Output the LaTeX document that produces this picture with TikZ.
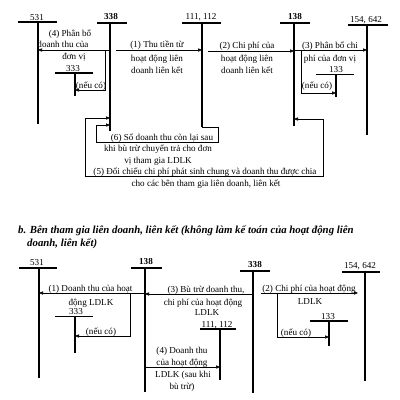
\documentclass[tikz,border=0pt]{standalone}
\usepackage{fontspec}
\setmainfont{Liberation Serif}
\usetikzlibrary{arrows.meta}
\begin{document}
\begin{tikzpicture}[x=1pt,y=-1pt,
  acc/.style={line width=1.2pt},
  accb/.style={line width=1.9pt},
  arr/.style={line width=0.6pt,-{Triangle[length=4pt,width=3.2pt]}},
  darr/.style={line width=0.6pt,{Triangle[length=4pt,width=3.2pt]}-{Triangle[length=4pt,width=3.2pt]}},
  tx/.style={font=\fontsize{9.1}{10}\selectfont, inner sep=0pt, anchor=base},
  txb/.style={tx, font=\fontsize{9.1}{10}\selectfont\bfseries},
  head/.style={inner sep=0pt, anchor=base west, font=\fontsize{10.8}{12}\selectfont\bfseries\itshape},
]
\useasboundingbox (0,0) rectangle (400,400);

% ---------- top section: accounts ----------
\node[tx] (t531) at (37,20) {531};
\draw[acc] (18,22) -- (57,22);
\draw[acc] (38,22) coordinate (u531) -- (38,124);

\node[txb] (t338) at (111,19.5) {338};
\draw[accb] (97,23) -- (127,23);
\draw[accb] (110,23) coordinate (u338) -- (110,131);

\node[tx] (t111) at (201,19.5) {111, 112};
\draw[acc] (182,23) -- (221,23);
\draw[acc] (202,23) coordinate (u111) -- (202,127) coordinate (d111);

\node[txb] (t138) at (295,19.5) {138};
\draw[accb] (280,23) -- (310,23);
\draw[accb] (294,23) coordinate (u138) -- (294,126);

\node[tx] (t154) at (366,22.5) {154, 642};
\draw[acc] (348,25) -- (388,25);
\draw[acc] (367,25) coordinate (u154) -- (367,135);

\node[tx] (t333) at (73,71) {333};
\draw[acc] (55,73) -- (93,73);
\draw[acc] (75,73) coordinate (u333) -- (75,96);

\node[tx] (t133) at (336,72) {133};
\draw[acc] (316,74.5) -- (354,74.5);
\draw[acc] (336,74.5) coordinate (u133) -- (336,97);

% ---------- top section: connectors ----------
\draw[arr] (u338 |- 0,50) -- (u531 |- 0,50);
\draw[arr] (105,50) -- (105,90) -- (u333 |- 0,90);
\draw[arr] (116,50) -- (u111 |- 0,50);
\draw[arr] (208,51) -- (u138 |- 0,51);
\draw[arr] (u138 |- 0,50) -- (u154 |- 0,50);
\draw[arr] (301,50) -- (301,93) -- (u133 |- 0,93);
\draw[arr] (d111) -- (218,127) -- (218,142) -- (96,142) -- (96,125) -- (u338 |- 0,125);
\draw[darr] (u338 |- 0,118) -- (85,118) -- (85,176) -- (323,176) -- (323,119) -- (u138 |- 0,119);

% ---------- top section: texts ----------
\node[tx] (a4a) at (70,36) {(4) Phân bổ};
\node[tx] (a4b) at (63,47) {doanh thu của};
\node[tx] (a4c) at (74,59) {đơn vị};
\node[tx] (n1) at (91,88) {(nếu có)};

\node[tx] (a1a) at (157,47) {(1) Thu tiền từ};
\node[tx] (a1b) at (157,61) {hoạt động liên};
\node[tx] (a1c) at (157,73) {doanh liên kết};

\node[tx] (a2a) at (247,48) {(2) Chi phí của};
\node[tx] (a2b) at (247,61) {hoạt động liên};
\node[tx] (a2c) at (247,73) {doanh liên kết};

\node[tx] (a3a) at (330,48) {(3) Phân bổ chi};
\node[tx] (a3b) at (330,61) {phí của đơn vị};
\node[tx] (n2) at (317,88) {(nếu có)};

\node[tx] (a6a) at (162,140) {(6) Số doanh thu còn lại sau};
\node[tx] (a6b) at (158,151) {khi bù trừ chuyển trả cho đơn};
\node[tx] (a6c) at (158,163) {vị tham gia LDLK};
\node[tx] (a5a) at (205,174) {(5) Đối chiếu chi phí phát sinh chung và doanh thu được chia};
\node[tx] (a5b) at (206,186) {cho các bên tham gia liên doanh, liên kết};

% ---------- heading b ----------
\node[head] (hb1) at (18,233) {b. Bên tham gia liên doanh, liên kết (không làm kế toán của hoạt động liên};
\node[head] (hb2) at (27,246) {doanh, liên kết)};

% ---------- bottom section: accounts ----------
\node[tx] (b531) at (37,265) {531};
\draw[acc] (19,268) -- (57,268);
\draw[acc] (39,268) coordinate (v531) -- (39,378);

\node[txb] (b138) at (146,264) {138};
\draw[accb] (131,268) -- (162,268);
\draw[accb] (145,268) coordinate (v138) -- (145,392);

\node[txb] (b338) at (255,267) {338};
\draw[accb] (240,271) -- (270,271);
\draw[accb] (253,271) coordinate (v338) -- (253,393);

\node[tx] (b154) at (360,268) {154, 642};
\draw[acc] (342,272) -- (380,272);
\draw[acc] (365,272) coordinate (v154) -- (365,381);

\node[tx] (b333) at (76,314.5) {333};
\draw[acc] (55,316.5) -- (93,316.5);
\draw[acc] (75,316.5) coordinate (v333) -- (75,353);

\node[tx] (b111) at (217,327) {111, 112};
\draw[acc] (200,329) -- (236,329);
\draw[acc] (220,329) coordinate (v111) -- (220,380);

\node[tx] (b133) at (328,319.5) {133};
\draw[acc] (310,321) -- (348,321);
\draw[acc] (329,321) coordinate (v133) -- (329,346);

% ---------- bottom section: connectors ----------
\draw[arr] (v138 |- 0,293) -- (v531 |- 0,293);
\draw[arr] (130,293) -- (130,336) -- (v333 |- 0,336);
\draw[arr] (v338 |- 0,294) -- (v138 |- 0,294);
\draw[arr] (v138 |- 0,367) -- (v111 |- 0,367);
\draw[arr] (261,293) -- (358,293);
\draw[arr] (277,293) -- (277,337) -- (v133 |- 0,337);

% ---------- bottom section: texts ----------
\node[tx] (c1a) at (90.5,291.5) {(1) Doanh thu của hoạt};
\node[tx] (c1b) at (91,305) {động LDLK};
\node[tx] (c1n) at (101,334) {(nếu có)};

\node[tx] (c3a) at (206,292) {(3) Bù trừ doanh thu,};
\node[tx] (c3b) at (203,305) {chi phí của hoạt động};
\node[tx] (c3c) at (207,315) {LDLK};

\node[tx] (c4a) at (182,353) {(4) Doanh thu};
\node[tx] (c4b) at (182,365) {của hoạt động};
\node[tx] (c4c) at (183,377) {LDLK (sau khi};
\node[tx] (c4d) at (182,389) {bù trừ)};

\node[tx] (c2a) at (309,291.5) {(2) Chi phí của hoạt động};
\node[tx] (c2b) at (310,304) {LDLK};
\node[tx] (c2n) at (296,335) {(nếu có)};
\end{tikzpicture}
\end{document}
